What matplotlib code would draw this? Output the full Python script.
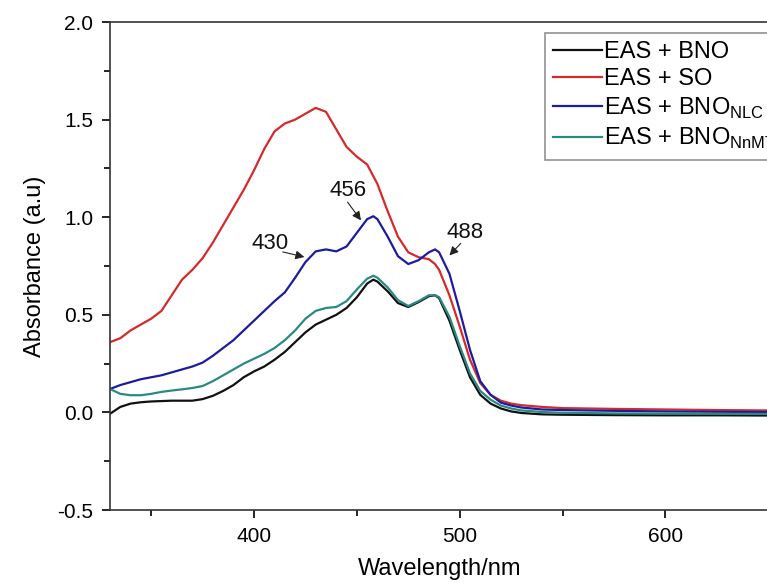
import matplotlib
matplotlib.use("Agg")
import matplotlib.pyplot as plt
from matplotlib.ticker import MultipleLocator

plt.rcParams['font.family'] = ['Liberation Sans', 'DejaVu Sans']
plt.rcParams['mathtext.fontset'] = 'custom'
plt.rcParams['mathtext.rm'] = 'Liberation Sans'
plt.rcParams['axes.unicode_minus'] = False

wavelength = [330, 335, 340, 345, 350, 355, 360, 365, 370, 375, 380, 385, 390, 395,
              400, 405, 410, 415, 420, 425, 430, 435, 440, 445, 450, 455, 458, 460,
              465, 470, 475, 480, 485, 488, 490, 495, 500, 505, 510, 515, 520, 525,
              530, 540, 550, 575, 600, 625, 650]

eas_bno = [-0.007, 0.028, 0.045, 0.052, 0.056, 0.058, 0.06, 0.06, 0.06, 0.068, 0.085, 0.11,
           0.14, 0.18, 0.21, 0.235, 0.27, 0.31, 0.36, 0.41, 0.45, 0.475, 0.50, 0.535, 0.59,
           0.66, 0.68, 0.67, 0.62, 0.56, 0.54, 0.565, 0.595, 0.60, 0.585, 0.47, 0.32, 0.18,
           0.09, 0.045, 0.02, 0.005, -0.003, -0.01, -0.012, -0.014, -0.015, -0.015, -0.016]

eas_so = [0.36, 0.38, 0.42, 0.45, 0.48, 0.52, 0.60, 0.68, 0.73, 0.79, 0.87, 0.96, 1.05, 1.14,
          1.24, 1.35, 1.44, 1.48, 1.50, 1.53, 1.56, 1.54, 1.45, 1.36, 1.31, 1.27, 1.21, 1.17,
          1.03, 0.90, 0.82, 0.795, 0.785, 0.76, 0.73, 0.60, 0.44, 0.27, 0.15, 0.09, 0.06, 0.045,
          0.037, 0.028, 0.022, 0.018, 0.015, 0.012, 0.01]

eas_bno_nlc = [0.12, 0.14, 0.155, 0.17, 0.18, 0.19, 0.205, 0.22, 0.235, 0.255, 0.29, 0.33,
               0.37, 0.42, 0.47, 0.52, 0.57, 0.615, 0.69, 0.77, 0.825, 0.835, 0.825, 0.85,
               0.92, 0.99, 1.005, 0.99, 0.90, 0.80, 0.76, 0.78, 0.82, 0.835, 0.82, 0.71, 0.52,
               0.32, 0.16, 0.09, 0.05, 0.035, 0.025, 0.015, 0.012, 0.008, 0.005, 0.003, 0.002]

eas_bno_nnmt = [0.12, 0.095, 0.088, 0.088, 0.095, 0.105, 0.112, 0.118, 0.125, 0.135, 0.16,
                0.19, 0.22, 0.25, 0.275, 0.30, 0.33, 0.37, 0.42, 0.48, 0.52, 0.535, 0.54, 0.57,
                0.63, 0.685, 0.70, 0.69, 0.64, 0.575, 0.545, 0.57, 0.60, 0.60, 0.59, 0.49, 0.34,
                0.20, 0.11, 0.065, 0.035, 0.02, 0.01, 0.002, -0.002, -0.005, -0.006, -0.007, -0.008]

labels = ['EAS + BNO', 'EAS + SO', r'EAS + BNO$_{\rm NLC}$', r'EAS + BNO$_{\rm NnMT}$']
colors = ['#111111', '#d42a2a', '#1c1ca0', '#2a8a82']

peak_labels = ['430', '456', '488']
peak_text_xy = [(407.6, 0.866), (445.6, 1.137), (502.7, 0.924)]
peak_arrow_tail = [(414.0, 0.822), (445.5, 1.077), (500.5, 0.866)]
peak_arrow_head = [(424.5, 0.796), (452.0, 0.984), (495.0, 0.804)]

W, H = 767, 583
fig = plt.figure(figsize=(W / 100, H / 100), dpi=100)
ax = fig.add_axes([110 / W, (H - 510) / H, (W - 110) / W + 0.003, 488 / H])

series = [eas_bno, eas_so, eas_bno_nlc, eas_bno_nnmt]
for vals, lab, col in zip(series, labels, colors):
    ax.plot(wavelength, vals, color=col, lw=1.6, label=lab)

for txt, txy, tail, head in zip(peak_labels, peak_text_xy, peak_arrow_tail, peak_arrow_head):
    ax.text(txy[0], txy[1], txt, fontsize=16, ha='center', va='center', color='#111111')
    ax.annotate('', xy=head, xytext=tail,
                arrowprops=dict(arrowstyle='-|>', color='#222222', lw=0.8,
                                mutation_scale=13, shrinkA=0, shrinkB=0))

ax.set_xlim(330, 330 + 657 / 2.05)
ax.set_ylim(-0.5, 2.0)
ax.xaxis.set_major_locator(MultipleLocator(100))
ax.xaxis.set_minor_locator(MultipleLocator(50))
ax.yaxis.set_major_locator(MultipleLocator(0.5))
ax.yaxis.set_minor_locator(MultipleLocator(0.25))
ax.tick_params(which='major', direction='out', length=6, width=1.2, labelsize=15, pad=6)
ax.tick_params(which='minor', direction='out', length=4, width=1.2)
ax.tick_params(axis='x', which='both', top=False)
ax.tick_params(axis='y', which='both', right=False)
ax.spines['right'].set_visible(False)
for s in ['left', 'bottom', 'top']:
    ax.spines[s].set_linewidth(1.2)
    ax.spines[s].set_color('#333333')

ax.set_xlabel('Wavelength/nm', fontsize=17, labelpad=9)
ax.set_ylabel('Absorbance (a.u)', fontsize=17, labelpad=8)

leg = ax.legend(loc='upper left', bbox_to_anchor=((543 - 110) / 657, (510 - 33) / 488),
                fontsize=17, frameon=True, fancybox=False, edgecolor='#777777',
                handlelength=2.1, handletextpad=0.05, labelspacing=0.22,
                borderpad=0.35, borderaxespad=0)
leg.get_frame().set_linewidth(1.2)

fig.savefig('out.png', dpi=100)
